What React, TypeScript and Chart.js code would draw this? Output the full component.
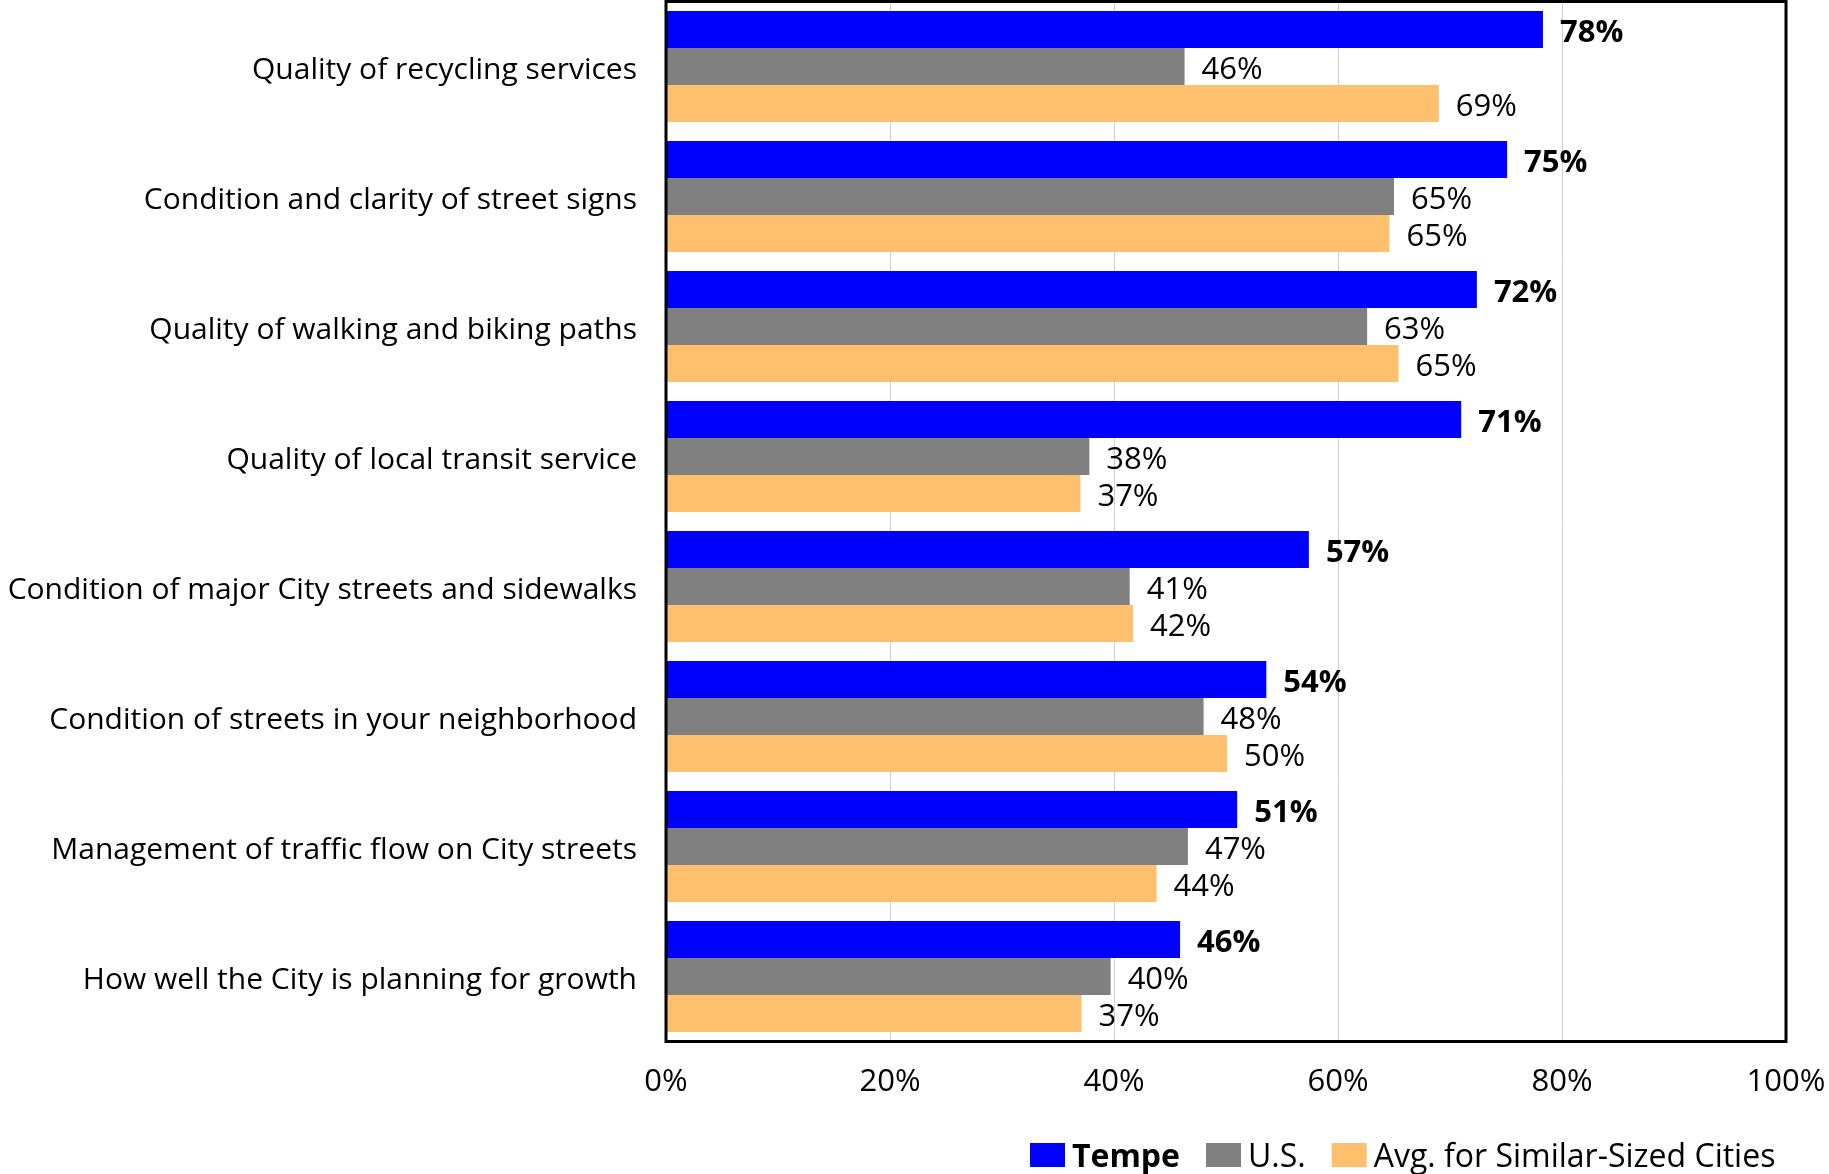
import React, { useEffect, useRef } from "react";
import { Chart, registerables } from "chart.js";

Chart.register(...registerables);

const categories = [
  "Quality of recycling services",
  "Condition and clarity of street signs",
  "Quality of walking and biking paths",
  "Quality of local transit service",
  "Condition of major City streets and sidewalks",
  "Condition of streets in your neighborhood",
  "Management of traffic flow on City streets",
  "How well the City is planning for growth",
];

const tempeValues = [78.3, 75.1, 72.4, 71.0, 57.4, 53.6, 51.0, 45.9];
const usValues = [46.3, 65.0, 62.6, 37.8, 41.4, 48.0, 46.6, 39.7];
const similarCitiesValues = [69.0, 64.6, 65.4, 37.0, 41.7, 50.1, 43.8, 37.1];

const seriesNames = ["Tempe", "U.S.", "Avg. for Similar-Sized Cities"];
const seriesColors = ["#0000FF", "#808080", "#FEC06C"];

const xTicks = [0, 20, 40, 60, 80, 100];

const FONT = "'Open Sans', 'Noto Sans', sans-serif";

const zeroPadding = (s: any) => {
  s.paddingTop = 0;
  s.paddingBottom = 0;
  s.paddingLeft = 0;
  s.paddingRight = 0;
};

const framePlugin = {
  id: "frame",
  afterDatasetsDraw(chart: any) {
    const { ctx } = chart;
    chart.data.datasets.forEach((ds: any, di: number) => {
      const meta = chart.getDatasetMeta(di);
      ctx.save();
      ctx.fillStyle = "#000";
      ctx.font = (di === 0 ? "bold " : "") + "31px " + FONT;
      ctx.textAlign = "left";
      ctx.textBaseline = "middle";
      meta.data.forEach((el: any, i: number) => {
        ctx.fillText(Math.round(ds.data[i]) + "%", el.x + 17, el.y + 4);
      });
      ctx.restore();
    });
  },
  afterDraw(chart: any) {
    const { ctx, chartArea } = chart;
    ctx.save();
    ctx.strokeStyle = "#000";
    ctx.lineWidth = 3;
    ctx.strokeRect(
      chartArea.left,
      chartArea.top,
      chartArea.right - chartArea.left,
      chartArea.bottom - chartArea.top
    );
    ctx.restore();

    // legend
    ctx.save();
    let x = 1030;
    const boxW = 35;
    const boxH = 24;
    const boxTop = 1143;
    const baseline = 1167;
    chart.data.datasets.forEach((ds: any, di: number) => {
      ctx.fillStyle = ds.backgroundColor;
      ctx.fillRect(x, boxTop, boxW, boxH);
      x += boxW + 7;
      ctx.font = (di === 0 ? "bold " : "") + "32px " + FONT;
      ctx.fillStyle = "#000";
      ctx.textAlign = "left";
      ctx.textBaseline = "alphabetic";
      ctx.fillText(ds.label, x, baseline);
      x += ctx.measureText(ds.label).width + 26;
    });
    ctx.restore();
  },
};

export default function App() {
  const canvasRef = useRef<HTMLCanvasElement | null>(null);

  useEffect(() => {
    const canvas = canvasRef.current;
    if (!canvas) return;
    const valueSets = [tempeValues, usValues, similarCitiesValues];
    const chart = new Chart(canvas, {
      type: "bar",
      data: {
        labels: categories,
        datasets: valueSets.map((vals, i) => ({
          label: seriesNames[i],
          data: vals,
          backgroundColor: seriesColors[i],
          borderWidth: 0,
          categoryPercentage: 0.852,
          barPercentage: 1.0,
        })),
      },
      options: {
        indexAxis: "y",
        animation: false,
        responsive: false,
        devicePixelRatio: 1,
        layout: { padding: { left: 0, right: 43, top: 1.5, bottom: 0 } },
        plugins: {
          legend: { display: false },
          tooltip: { enabled: false },
        },
        scales: {
          x: {
            min: 0,
            max: 100,
            afterFit: (s: any) => {
              s.height = 1174 - 1041.5;
              zeroPadding(s);
            },
            afterBuildTicks: (s: any) => {
              s.ticks = xTicks.map((v) => ({ value: v }));
            },
            ticks: {
              stepSize: 20,
              padding: 22,
              color: "#000",
              font: { family: FONT, size: 31 },
              callback: (v: any) => v + "%",
              maxRotation: 0,
            },
            grid: {
              color: "#D0D0D0",
              lineWidth: 1,
              drawTicks: false,
            },
            border: { display: false },
          },
          y: {
            afterFit: (s: any) => {
              s.width = 666;
              zeroPadding(s);
            },
            ticks: {
              padding: 29,
              labelOffset: 3.5,
              color: "#000",
              font: { family: FONT, size: 30 },
            },
            grid: { display: false, drawTicks: false },
            border: { display: false },
          },
        },
      },
      plugins: [framePlugin],
    });
    return () => chart.destroy();
  }, []);

  return (
    <div style={{ position: "fixed", left: 0, top: 0, width: 1829, height: 1174, background: "#fff" }}>
      <canvas ref={canvasRef} width={1829} height={1174} style={{ display: "block" }} />
    </div>
  );
}
